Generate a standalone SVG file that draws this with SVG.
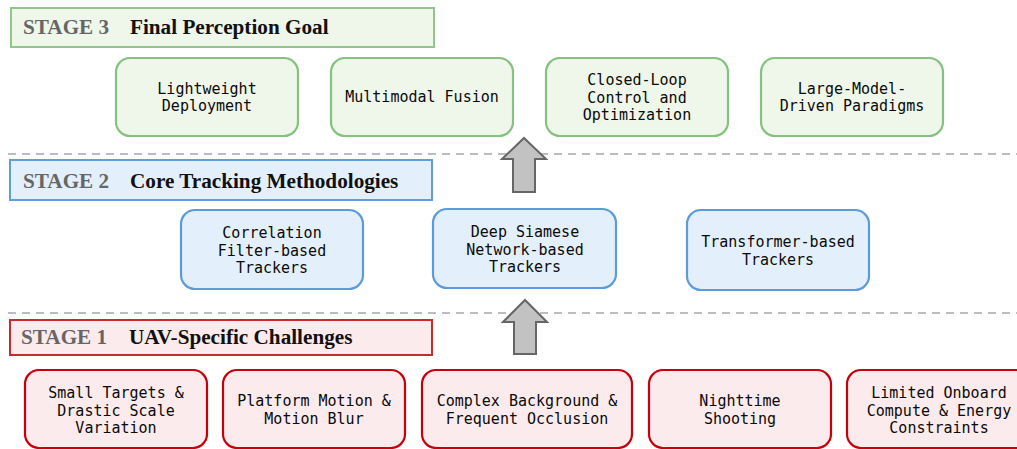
<svg xmlns="http://www.w3.org/2000/svg" width="1017" height="449" viewBox="0 0 1017 449">
<style>
.bg{fill:#ffffff}
.ban3{fill:#eff6ea;stroke:#8fc78b;stroke-width:2}
.ban2{fill:#e3effb;stroke:#5f9fd9;stroke-width:2}
.ban1{fill:#fcebec;stroke:#cc2a2a;stroke-width:2}
.g{fill:#eff6ea;stroke:#86c27f;stroke-width:2.2}
.b{fill:#e3effb;stroke:#5b9bdc;stroke-width:2.2}
.r{fill:#fcebed;stroke:#c8000a;stroke-width:2.2}
.st{font-family:"Liberation Serif","Times New Roman",serif;font-weight:bold;font-size:21.2px;fill:#666666}
.tt{font-family:"Liberation Serif","Times New Roman",serif;font-weight:bold;font-size:21.2px;fill:#111111}
.lb{font-family:"DejaVu Sans Mono","Liberation Mono",monospace;font-size:15px;fill:#0a0a0a;text-anchor:middle;dominant-baseline:central}
.dash{stroke:#bdbdbd;stroke-width:2;stroke-dasharray:8 6;fill:none}
.arr{fill:#c2c2c2;stroke:#666666;stroke-width:2;stroke-linejoin:miter}
</style>
<rect class="bg" x="0" y="0" width="1017" height="449"/>

<g id="separators">
<line class="dash" x1="8" y1="154" x2="1017" y2="154"/>
<line class="dash" x1="8" y1="313" x2="1017" y2="313"/>
</g>

<g id="stage3-banner">
<rect class="ban3" x="11" y="8" width="423" height="39"/>
<text class="st" x="23" y="34">STAGE 3</text>
<text class="tt" x="130" y="34">Final Perception Goal</text>
</g>
<g id="stage2-banner">
<rect class="ban2" x="10" y="160" width="422" height="40"/>
<text class="st" x="23" y="188">STAGE 2</text>
<text class="tt" x="130" y="188">Core Tracking Methodologies</text>
</g>
<g id="stage1-banner">
<rect class="ban1" x="10" y="320" width="422" height="35"/>
<text class="st" x="21" y="344">STAGE 1</text>
<text class="tt" x="129" y="344">UAV-Specific Challenges</text>
</g>

<g id="connectors">
<polygon class="arr" points="524,138 546,159 535,159 535,192 513,192 513,159 502,159"/>
<polygon class="arr" points="525,300 547,322 536,322 536,354 514,354 514,322 503,322"/>
</g>

<g id="g1"><rect class="g" x="116" y="58" width="182" height="78" rx="14"/>
<text class="lb" x="207" y="89">Lightweight</text><text class="lb" x="207" y="106">Deployment</text></g>
<g id="g2"><rect class="g" x="331" y="58" width="182" height="78" rx="14"/>
<text class="lb" x="422" y="97">Multimodal Fusion</text></g>
<g id="g3"><rect class="g" x="546" y="58" width="182" height="78" rx="14"/>
<text class="lb" x="637" y="80">Closed-Loop</text><text class="lb" x="637" y="97.5">Control and</text><text class="lb" x="637" y="115">Optimization</text></g>
<g id="g4"><rect class="g" x="761" y="58" width="182" height="78" rx="14"/>
<text class="lb" x="852" y="89">Large-Model-</text><text class="lb" x="852" y="106">Driven Paradigms</text></g>

<g id="b1"><rect class="b" x="181" y="210" width="182" height="79" rx="14"/>
<text class="lb" x="272" y="233">Correlation</text><text class="lb" x="272" y="250.5">Filter-based</text><text class="lb" x="272" y="268">Trackers</text></g>
<g id="b2"><rect class="b" x="433" y="209" width="183" height="79" rx="14"/>
<text class="lb" x="525" y="232">Deep Siamese</text><text class="lb" x="525" y="249.5">Network-based</text><text class="lb" x="525" y="267">Trackers</text></g>
<g id="b3"><rect class="b" x="687" y="210" width="182" height="80" rx="14"/>
<text class="lb" x="778" y="242">Transformer-based</text><text class="lb" x="778" y="259.5">Trackers</text></g>

<g id="r1"><rect class="r" x="25" y="370" width="182" height="78" rx="14"/>
<text class="lb" x="116" y="393">Small Targets &amp;</text><text class="lb" x="116" y="410.5">Drastic Scale</text><text class="lb" x="116" y="428">Variation</text></g>
<g id="r2"><rect class="r" x="223" y="370" width="182" height="78" rx="14"/>
<text class="lb" x="314" y="401">Platform Motion &amp;</text><text class="lb" x="314" y="419">Motion Blur</text></g>
<g id="r3"><rect class="r" x="422" y="370" width="210" height="78" rx="14"/>
<text class="lb" x="527" y="401">Complex Background &amp;</text><text class="lb" x="527" y="419">Frequent Occlusion</text></g>
<g id="r4"><rect class="r" x="649" y="370" width="182" height="78" rx="14"/>
<text class="lb" x="740" y="401">Nighttime</text><text class="lb" x="740" y="419">Shooting</text></g>
<g id="r5"><rect class="r" x="847" y="370" width="184" height="78" rx="14"/>
<text class="lb" x="939" y="393">Limited Onboard</text><text class="lb" x="939" y="410.5">Compute &amp; Energy</text><text class="lb" x="939" y="428">Constraints</text></g>
</svg>
